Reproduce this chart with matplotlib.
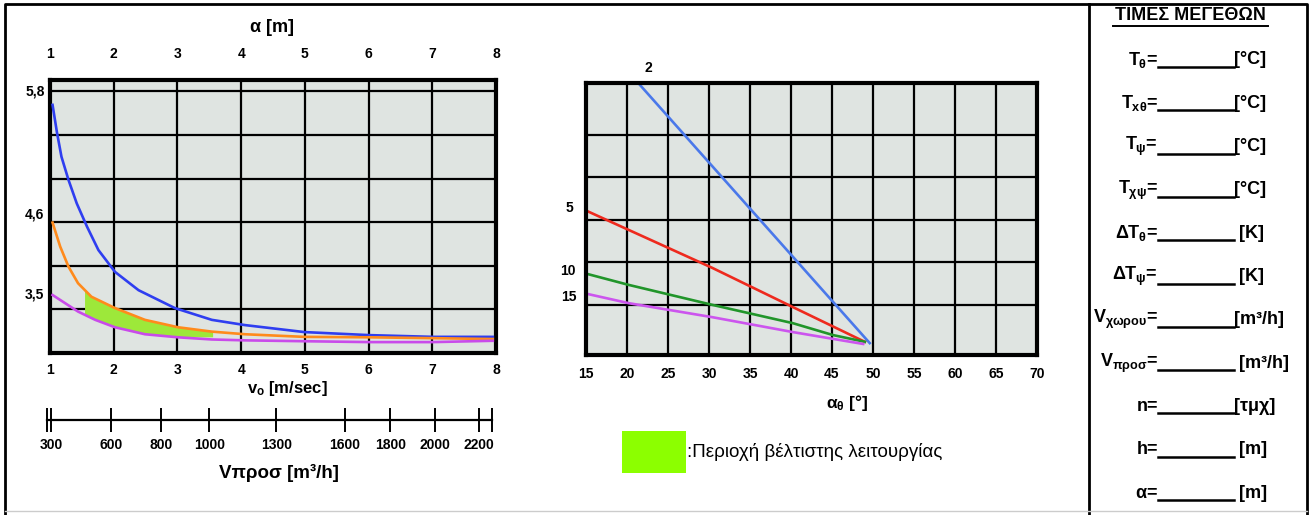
import numpy as np
import matplotlib.pyplot as plt

# -----------------------------
# Fonts
# -----------------------------
plt.rcParams['font.family'] = ['Liberation Sans', 'DejaVu Sans']
plt.rcParams['font.weight'] = 'bold'
plt.rcParams['mathtext.fontset'] = 'custom'
plt.rcParams['mathtext.rm'] = 'Liberation Sans:bold'
plt.rcParams['mathtext.it'] = 'Liberation Sans:bold'
plt.rcParams['mathtext.bf'] = 'Liberation Sans:bold'

# -----------------------------
# Data
# left chart: x = v0 / a [m], y = grid units
# -----------------------------
V0_TICKS = [1, 2, 3, 4, 5, 6, 7, 8]
H_LABELS = ['5,8', '4,6', '3,5']
H_LABEL_POS = [6.03, 3.21, 1.38]

blue_x = [1.04, 1.11, 1.18, 1.29, 1.42, 1.58, 1.76, 2.02, 2.39, 2.96, 3.54, 4.06,
          4.99, 6.01, 7.01, 7.95]
blue_y = [5.69, 5.05, 4.50, 3.97, 3.43, 2.90, 2.36, 1.86, 1.44, 1.03, 0.76, 0.64,
          0.48, 0.41, 0.37, 0.37]
orange_x = [1.04, 1.16, 1.29, 1.44, 1.65, 2.02, 2.49, 3.01, 3.54, 4.06, 4.99, 6.01,
            7.01, 7.95]
orange_y = [2.99, 2.44, 1.98, 1.60, 1.29, 1.03, 0.76, 0.59, 0.49, 0.43, 0.37, 0.36,
            0.34, 0.32]
purple_x = [1.04, 1.24, 1.44, 1.71, 2.02, 2.49, 3.01, 3.54, 4.06, 4.99, 6.01, 7.01, 7.95]
purple_y = [1.33, 1.14, 0.95, 0.76, 0.59, 0.43, 0.36, 0.31, 0.29, 0.27, 0.25, 0.25, 0.28]

# green "optimal operation" area
opt_top_x = [1.55, 1.65, 2.02, 2.49, 3.01, 3.56]
opt_top_y = [1.45, 1.29, 1.03, 0.76, 0.59, 0.48]
opt_bot_x = [1.55, 1.71, 2.02, 2.49, 3.01, 3.56]
opt_bot_y = [0.87, 0.76, 0.59, 0.43, 0.36, 0.36]

# V_pros scale below the left chart (position in v0 units)
VPROS_VALUES = [300, 600, 800, 1000, 1300, 1600, 1800, 2000, 2200]
VPROS_POS = [1.02, 1.96, 2.74, 3.50, 4.55, 5.63, 6.34, 7.04, 7.73]
VPROS_ENDS = [0.95, 7.94]

# right chart: x = a_theta [deg], y = grid units
ATH_TICKS = list(range(15, 71, 5))
dt_labels = ['2', '5', '10', '15']
dt2_x = [21.6, 49.6]
dt2_y = [6.17, 0.10]
dt5_x = [15.1, 30.4, 40.2, 49.0]
dt5_y = [3.21, 1.87, 0.95, 0.13]
dt10_x = [15.1, 20.2, 30.4, 40.2, 45.1, 49.0]
dt10_y = [1.73, 1.47, 1.00, 0.57, 0.29, 0.13]
dt15_x = [15.1, 20.2, 30.4, 40.2, 45.1, 48.8]
dt15_y = [1.26, 1.04, 0.71, 0.36, 0.20, 0.08]

# right panel
PANEL_TITLE = 'ΤΙΜΕΣ ΜΕΓΕΘΩΝ'
panel_labels = [r'$T_{\theta}$=', r'$T_{x\theta}$=', r'$T_{\psi}$=', r'$T_{\chi\psi}$=',
                r'$\Delta T_{\theta}$=', r'$\Delta T_{\psi}$=',
                r'$V_{\chi\omega\rho o\upsilon}$=', r'$V_{\pi\rho o\sigma}$=',
                'n=', 'h=', r'$\alpha$=']
panel_units = ['[°C]', '[°C]', '[°C]', '[°C]', ' [K]', ' [K]',
               '[m³/h]', ' [m³/h]', '[τμχ]', ' [m]', ' [m]']

W, H = 1310, 515
BG = '#dfe4e1'
fig = plt.figure(figsize=(W / 100, H / 100), dpi=100)

# overlay in pixel coordinates for free text and frame
ov = fig.add_axes([0, 0, 1, 1])
ov.set_xlim(0, W)
ov.set_ylim(H, 0)
ov.axis('off')


def pax(x0, y0, x1, y1):
    return fig.add_axes([x0 / W, 1 - y1 / H, (x1 - x0) / W, (y1 - y0) / H])


# -----------------------------
# Left chart
# -----------------------------
axL = pax(50, 80, 496, 353)
axL.set_facecolor(BG)
axL.set_xlim(1, 8)
axL.set_ylim(0, 6.26)
axL.set_xticks(V0_TICKS)
axL.set_yticks(H_LABEL_POS)
axL.set_yticklabels(H_LABELS)
axL.set_yticks(np.arange(1, 7), minor=True)
axL.grid(axis='x', which='major', color='black', lw=1.6)
axL.grid(axis='y', which='minor', color='black', lw=1.6)
axL.tick_params(which='both', length=0, labelsize=10)
axL.tick_params(axis='x', pad=7)
axL.tick_params(axis='y', pad=4)
for s in axL.spines.values():
    s.set_linewidth(3)
axL.set_axisbelow(True)

axL.fill(opt_top_x + opt_bot_x[::-1], opt_top_y + opt_bot_y[::-1],
         color='#9de83a', lw=0, zorder=2)

axL.plot(blue_x, blue_y, color='#2f3ef0', lw=1.9, zorder=3)
axL.plot(orange_x, orange_y, color='#ff8a1c', lw=1.9, zorder=3)
axL.plot(purple_x, purple_y, color='#c94bea', lw=1.9, zorder=3)

top = axL.secondary_xaxis('top')
top.set_xticks(V0_TICKS)
top.tick_params(length=0, pad=14, labelsize=10)
top.spines['top'].set_visible(False)

# V_pros scale
axS = pax(50, 408, 496, 432)
axS.set_xlim(1, 8)
axS.set_ylim(-1, 1)
axS.axis('off')
axS.plot(VPROS_ENDS, [0, 0], color='black', lw=1.6, clip_on=False)
axS.vlines(VPROS_ENDS + VPROS_POS, -1, 1, color='black', lw=1.4, clip_on=False)
for v, p in zip(VPROS_VALUES, VPROS_POS):
    axS.text(p, -2.1, str(v), ha='center', va='center', fontsize=10)

ov.text(272, 27, r'$\alpha$ [m]', ha='center', va='center', fontsize=13)
ov.text(202, 280, 'h [m]', ha='center', va='center', fontsize=13)
ov.text(287, 389, r'$v_{o}$ [m/sec]', ha='center', va='center', fontsize=12)
ov.text(279, 473, 'Vπροσ [m³/h]', ha='center', va='center', fontsize=13.5)

# -----------------------------
# Right chart
# -----------------------------
axR = pax(586, 83, 1037, 355)
axR.set_facecolor(BG)
axR.set_xlim(15, 70)
axR.set_ylim(-0.18, 6.22)
axR.set_xticks(ATH_TICKS)
axR.set_yticks([])
axR.set_yticks(np.arange(1, 6), minor=True)
axR.grid(axis='x', which='major', color='black', lw=1.6)
axR.grid(axis='y', which='minor', color='black', lw=1.6)
axR.tick_params(which='both', length=0, labelsize=10, pad=9)
for s in axR.spines.values():
    s.set_linewidth(3)
axR.set_axisbelow(True)

axR.plot(dt2_x, dt2_y, color='#4a78ea', lw=1.9)
axR.plot(dt5_x, dt5_y, color='#ee2a1e', lw=1.9)
axR.plot(dt10_x, dt10_y, color='#21952a', lw=1.9)
axR.plot(dt15_x, dt15_y, color='#cc55ee', lw=1.9)

for t, (x, y) in zip(dt_labels, [(648, 68), (569, 208), (568, 271), (569, 297)]):
    ov.text(x, y, t, ha='center', va='center', fontsize=10)
ov.text(945, 107, r'$\Delta T_{\theta}$ [K]', ha='center', va='center', fontsize=12.5)
ov.text(847, 403, r'$\alpha_{\theta}$ [°]', ha='center', va='center', fontsize=12.5)

# legend
ov.add_patch(plt.Rectangle((622, 431), 64, 42, color='#8cff00', lw=0))
ov.text(687, 452, ':Περιοχή βέλτιστης λειτουργίας', ha='left', va='center',
        fontsize=13.5, fontweight='normal')

# -----------------------------
# Right panel
# -----------------------------
ov.text(1190, 16, PANEL_TITLE, ha='center', va='center', fontsize=13)
ov.plot([1113, 1268], [26, 26], color='black', lw=1.4)
for i, (lab, unit) in enumerate(zip(panel_labels, panel_units)):
    y = 60 + i * 43.3
    ov.text(1158, y, lab, ha='right', va='center', fontsize=13)
    ov.plot([1158, 1234], [y + 7, y + 7], color='black', lw=1.8)
    ov.text(1234, y, unit, ha='left', va='center', fontsize=13)

# frame
ov.plot([5, 5, 1307, 1307], [515, 4, 4, 515], color='black', lw=2)
ov.plot([1089, 1089], [4, 515], color='black', lw=2)
ov.plot([5, 1307], [511, 511], color='#cccccc', lw=1)

fig.savefig('out.png', dpi=100)
